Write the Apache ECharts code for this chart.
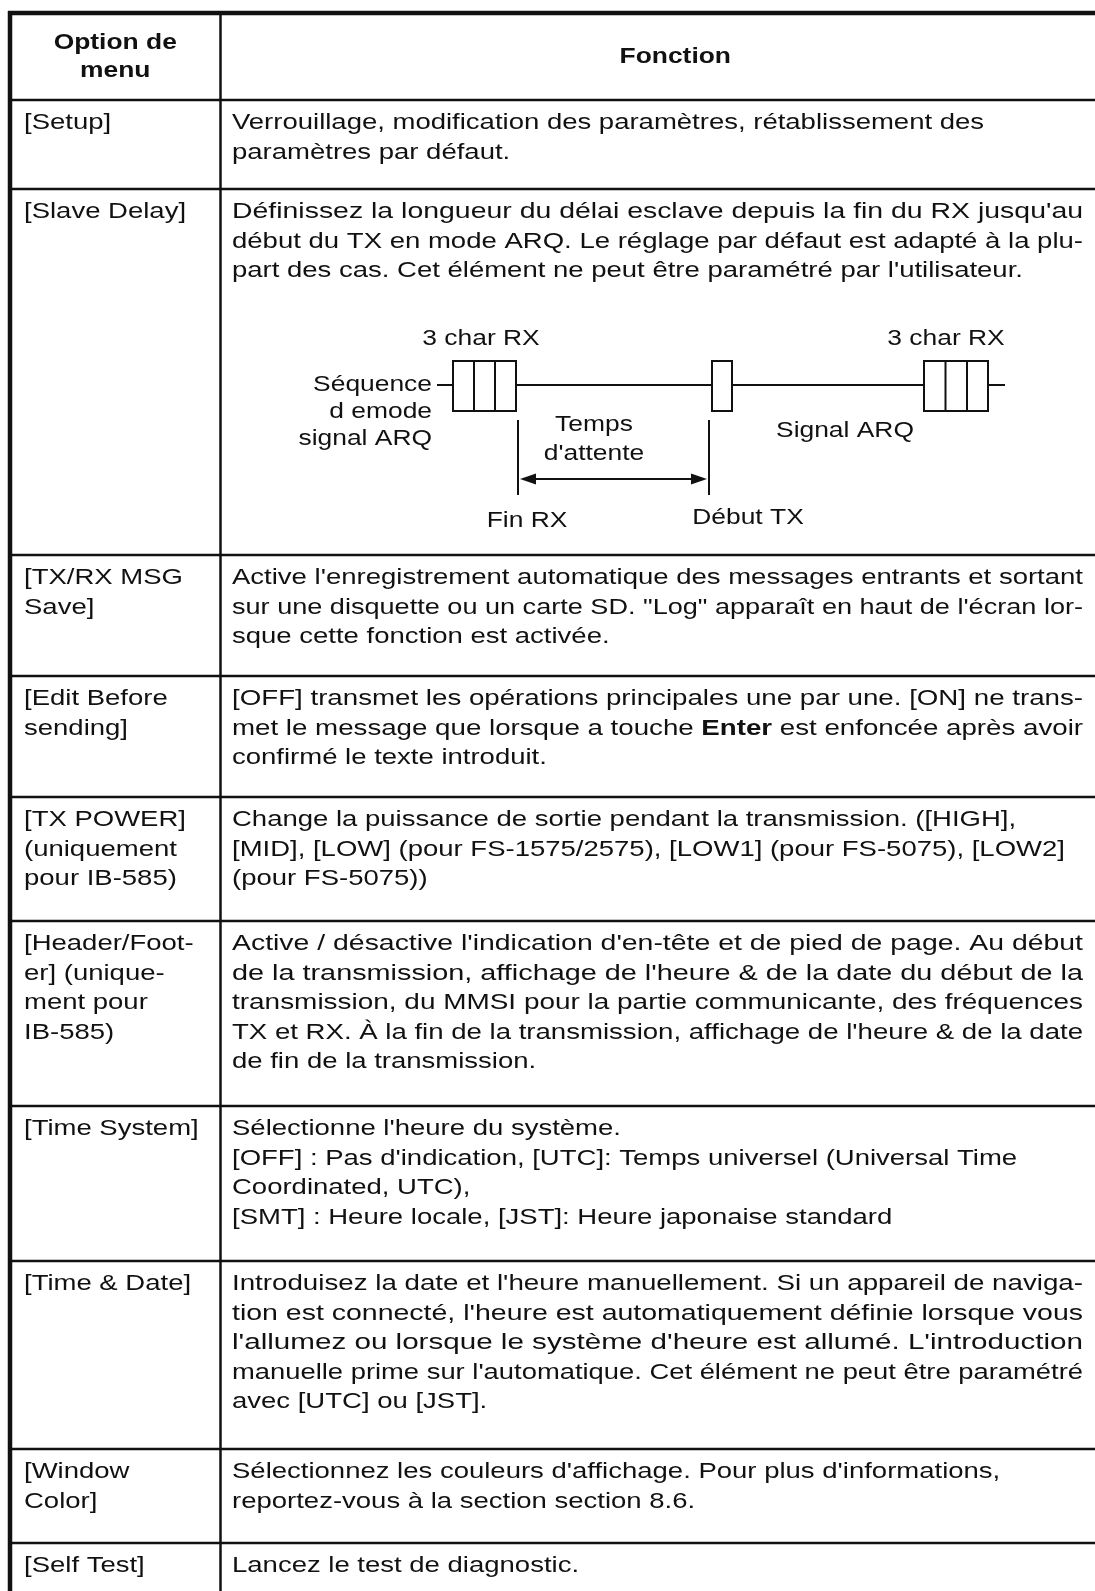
<!DOCTYPE html>
<html>
<head>
<meta charset="utf-8">
<script src="https://cdn.jsdelivr.net/npm/echarts@6.0.0/dist/echarts.min.js"></script>
<style>
html,body{margin:0;padding:0;background:#ffffff;}
#chart{width:1095px;height:1591px;}
</style>
</head>
<body>
<div id="chart"></div>
<script>
// ---------------- DATA ----------------
const headerOption = ['Option de', 'menu'];
const headerFunction = ['Fonction'];

const menuOptions = [
  ['[Setup]'],
  ['[Slave Delay]'],
  ['[TX/RX MSG', 'Save]'],
  ['[Edit Before', 'sending]'],
  ['[TX POWER]', '(uniquement', 'pour IB-585)'],
  ['[Header/Foot-', 'er] (unique-', 'ment pour', 'IB-585)'],
  ['[Time System]'],
  ['[Time & Date]'],
  ['[Window', 'Color]'],
  ['[Self Test]']
];

const functionTexts = [
  ['Verrouillage, modification des paramètres, rétablissement des',
   'paramètres par défaut.'],
  ["Définissez la longueur du délai esclave depuis la fin du RX jusqu'au",
   "début du TX en mode ARQ. Le réglage par défaut est adapté à la plu-",
   "part des cas. Cet élément ne peut être paramétré par l'utilisateur."],
  ["Active l'enregistrement automatique des messages entrants et sortant",
   "sur une disquette ou un carte SD. \"Log\" apparaît en haut de l'écran lor-",
   "sque cette fonction est activée."],
  ["[OFF] transmet les opérations principales une par une. [ON] ne trans-",
   "met le message que lorsque a touche {b|Enter} est enfoncée après avoir",
   "confirmé le texte introduit."],
  ["Change la puissance de sortie pendant la transmission. ([HIGH],",
   "[MID], [LOW] (pour FS-1575/2575), [LOW1] (pour FS-5075), [LOW2]",
   "(pour FS-5075))"],
  ["Active / désactive l'indication d'en-tête et de pied de page. Au début",
   "de la transmission, affichage de l'heure & de la date du début de la",
   "transmission, du MMSI pour la partie communicante, des fréquences",
   "TX et RX. À la fin de la transmission, affichage de l'heure & de la date",
   "de fin de la transmission."],
  ["Sélectionne l'heure du système.",
   "[OFF] : Pas d'indication, [UTC]: Temps universel (Universal Time",
   "Coordinated, UTC),",
   "[SMT] : Heure locale, [JST]: Heure japonaise standard"],
  ["Introduisez la date et l'heure manuellement. Si un appareil de naviga-",
   "tion est connecté, l'heure est automatiquement définie lorsque vous",
   "l'allumez ou lorsque le système d'heure est allumé. L'introduction",
   "manuelle prime sur l'automatique. Cet élément ne peut être paramétré",
   "avec [UTC] ou [JST]."],
  ["Sélectionnez les couleurs d'affichage. Pour plus d'informations,",
   "reportez-vous à la section section 8.6."],
  ["Lancez le test de diagnostic."]
];

const diagramCharLabel = '3 char RX';
const diagramSeqLabel = ['Séquence', 'd emode', 'signal ARQ'];
const diagramWaitLabel = ['Temps', "d'attente"];
const diagramSignalLabel = 'Signal ARQ';
const diagramEndRx = 'Fin RX';
const diagramStartTx = 'Début TX';

// ---------------- LAYOUT / STYLE ----------------
const W = 1095, H = 1591;
const FONT_FAMILY = '"Liberation Sans", Arial, Helvetica, sans-serif';
const FS = 22, SX = 1.25, SX_HEAD = 1.2, SX_DIAG = 1.2;
const INK = '#111111';
const rowEdges = [100, 189, 555, 676, 797, 921, 1106, 1261, 1449, 1543, 1591];
const justifiedRows = [1, 2, 3, 5, 7];
const X_LEFT = 10, X_DIV = 220.5, Y_TOP = 13;
const LABEL_X = 24, TEXT_X = 232, TEXT_RIGHT = 1083;
const FIRST = 23, PITCH = 29.5;

const ctx = document.createElement('canvas').getContext('2d');
function segWidth(str, bold) {
  ctx.font = (bold ? 'bold ' : '') + FS + 'px ' + FONT_FAMILY;
  return ctx.measureText(str).width;
}
function lineWidth(str) {
  let w = 0;
  const re = /\{b\|([^}]*)\}/g;
  let last = 0, m;
  while ((m = re.exec(str)) !== null) {
    w += segWidth(str.slice(last, m.index), false);
    w += segWidth(m[1], true);
    last = re.lastIndex;
  }
  w += segWidth(str.slice(last), false);
  return w;
}

function txt(str, x, y, opts) {
  opts = opts || {};
  return {
    type: 'text',
    x: x, y: y,
    scaleX: opts.sx || SX,
    silent: true,
    style: {
      text: str,
      fontSize: FS,
      fontFamily: FONT_FAMILY,
      fontWeight: opts.bold ? 'bold' : 'normal',
      fill: INK,
      align: opts.align || 'left',
      verticalAlign: 'middle',
      rich: { b: { fontSize: FS, fontFamily: FONT_FAMILY, fontWeight: 'bold', fill: INK } }
    }
  };
}
function seg(x1, y1, x2, y2, w) {
  return { type: 'line', silent: true, shape: { x1: x1, y1: y1, x2: x2, y2: y2 },
    style: { stroke: INK, lineWidth: w } };
}
function box(x, y, w, h) {
  return { type: 'rect', silent: true, shape: { x: x, y: y, width: w, height: h },
    style: { fill: '#ffffff', stroke: INK, lineWidth: 2 } };
}

const els = [];
els.push({ type: 'rect', silent: true, shape: { x: 0, y: 0, width: W, height: H }, style: { fill: '#ffffff' } });

// grid lines
els.push(seg(8, Y_TOP, W, Y_TOP, 4.5));
els.push(seg(X_LEFT, Y_TOP - 2, X_LEFT, H, 4.5));
els.push(seg(X_DIV, Y_TOP, X_DIV, H, 2.5));
for (let i = 0; i < rowEdges.length - 1; i++) {
  els.push(seg(X_LEFT, rowEdges[i], W, rowEdges[i], 2.5));
}

// header
const hMid = (Y_TOP + rowEdges[0]) / 2;
headerOption.forEach((s, j) => {
  els.push(txt(s, (X_LEFT + X_DIV) / 2, hMid - 14 + j * 28, { bold: true, align: 'center', sx: SX_HEAD }));
});
els.push(txt(headerFunction[0], (X_DIV + 1130) / 2, hMid, { bold: true, align: 'center', sx: SX_HEAD }));

// rows
menuOptions.forEach((lines, i) => {
  const top = rowEdges[i];
  lines.forEach((s, j) => {
    els.push(txt(s, LABEL_X, top + FIRST + j * PITCH));
  });
  const ft = functionTexts[i];
  ft.forEach((s, j) => {
    let sx = SX;
    if (justifiedRows.indexOf(i) >= 0 && j < ft.length - 1) {
      sx = (TEXT_RIGHT - TEXT_X) / lineWidth(s);
    }
    els.push(txt(s, TEXT_X, top + FIRST + j * PITCH, { sx: sx }));
  });
});

// diagram (Slave Delay row)
const LY = 385;           // signal line
const BT = 361, BH = 50;  // box top / height
els.push(seg(437, LY, 1005, LY, 2));
els.push(box(453, BT, 63, BH));
els.push(seg(474, BT, 474, BT + BH, 2));
els.push(seg(495, BT, 495, BT + BH, 2));
els.push(box(712, BT, 20, BH));
els.push(box(924, BT, 64, BH));
els.push(seg(945.5, BT, 945.5, BT + BH, 2));
els.push(seg(967, BT, 967, BT + BH, 2));
els.push(seg(518, 420, 518, 495, 2));
els.push(seg(709, 420, 709, 495, 2));
els.push(seg(533, 479, 695, 479, 2.2));
els.push({ type: 'polygon', silent: true, shape: { points: [[520, 479], [536, 473.5], [536, 484.5]] }, style: { fill: INK } });
els.push({ type: 'polygon', silent: true, shape: { points: [[707, 479], [691, 473.5], [691, 484.5]] }, style: { fill: INK } });

els.push(txt(diagramCharLabel, 481, 339, { align: 'center', sx: SX_DIAG }));
els.push(txt(diagramCharLabel, 946, 339, { align: 'center', sx: SX_DIAG }));
diagramSeqLabel.forEach((s, j) => els.push(txt(s, 432, LY + j * 27, { align: 'right', sx: SX_DIAG })));
diagramWaitLabel.forEach((s, j) => els.push(txt(s, 594, 425 + j * 29, { align: 'center', sx: SX_DIAG })));
els.push(txt(diagramSignalLabel, 845, 431, { align: 'center', sx: SX_DIAG }));
els.push(txt(diagramEndRx, 527, 521, { align: 'center', sx: SX_DIAG }));
els.push(txt(diagramStartTx, 748, 518, { align: 'center', sx: SX_DIAG }));

const chart = echarts.init(document.getElementById('chart'), null, { renderer: 'canvas', width: W, height: H });
chart.setOption({
  animation: false,
  backgroundColor: '#ffffff',
  graphic: { elements: els }
});
</script>
</body>
</html>
